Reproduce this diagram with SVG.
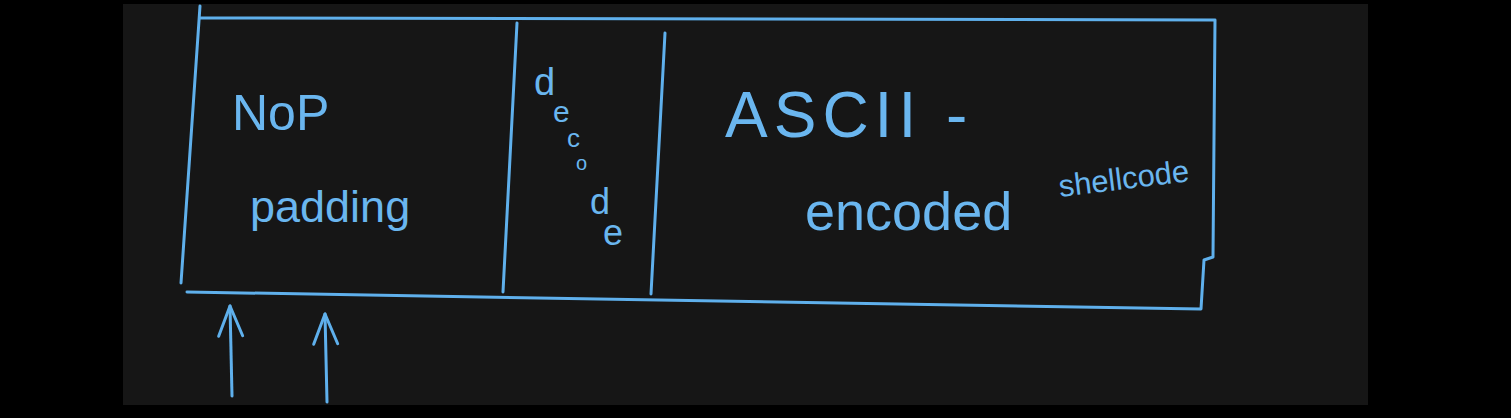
<svg xmlns="http://www.w3.org/2000/svg" width="1511" height="418" viewBox="0 0 1511 418">
<style>
.ln{fill:none;stroke:#5fb0ec;stroke-width:3;stroke-linecap:round;stroke-linejoin:round}
.t{fill:#6ab6ef;font-family:"Liberation Sans",Arial,sans-serif;font-weight:normal}
</style>
<defs>
<marker id="ah" viewBox="0 0 36 28" refX="33" refY="14" markerWidth="36" markerHeight="28" markerUnits="userSpaceOnUse" orient="auto">
<path d="M3,2 L33,14 L3,26" fill="none" stroke="#5fb0ec" stroke-width="3" stroke-linecap="round" stroke-linejoin="round"/>
</marker>
</defs>
<rect width="1511" height="418" fill="#000"/>
<rect x="123" y="4" width="1245" height="401" fill="#161616"/>
<g id="buffer">
<path class="ln" d="M200,6 L181,283"/>
<path class="ln" d="M200,18 L1215,20 L1213,257 L1204,260 L1201,309 L187,292"/>
</g>
<g id="nop-padding">
<text class="t" x="232" y="130" font-size="50">NoP</text>
<text class="t" x="250" y="222" font-size="45">padding</text>
</g>
<g id="decoder">
<path class="ln" d="M517,23 L503,292"/>
<text class="t" x="534" y="95" font-size="38">d</text>
<text class="t" x="553" y="122" font-size="30">e</text>
<text class="t" x="567" y="147" font-size="26">c</text>
<text class="t" x="576" y="170" font-size="20">o</text>
<text class="t" x="590" y="214" font-size="36">d</text>
<text class="t" x="603" y="245" font-size="36">e</text>
</g>
<g id="shellcode">
<path class="ln" d="M665,33 L651,294"/>
<text class="t" x="725" y="137" font-size="64" letter-spacing="6">ASCII -</text>
<text class="t" x="805" y="230" font-size="54">encoded</text>
<text class="t" x="1060" y="197" font-size="31" transform="rotate(-7 1060 197)">shellcode</text>
</g>
<g id="connectors">
<path class="ln" d="M232,396 L230,306" marker-end="url(#ah)"/>
<path class="ln" d="M327,402 L325,314" marker-end="url(#ah)"/>
</g>
</svg>
